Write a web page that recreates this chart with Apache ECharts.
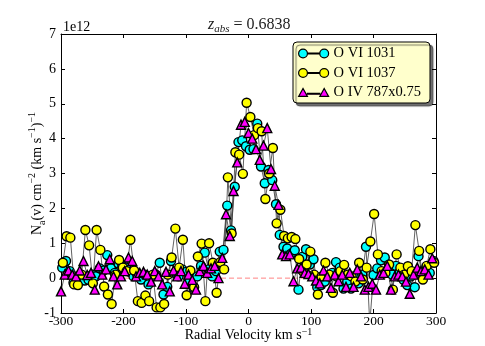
<!DOCTYPE html>
<html>
<head>
<meta charset="utf-8">
<title>O VI / O IV apparent column density</title>
<script src="https://cdn.jsdelivr.net/npm/echarts@6/dist/echarts.min.js"></script>
<style>
    html, body { margin: 0; padding: 0; background: #fff; }
    #chart { width: 485px; height: 346px; }
</style>
</head>
<body>
<div id="chart"></div>
<script>
// Apparent column density profiles, units of 1e12 cm^-2 (km/s)^-1

// O VI 1031 (cyan circles)
var velocityOVI1031 = [
    -298, -292, -286, -280, -274, -268, -262, -256, -250, -244,
    -238, -232, -226, -220, -214, -208, -202, -196, -190, -184,
    -178, -172, -166, -160, -154, -148, -142, -136, -130, -124,
    -118, -112, -106, -100, -94, -88, -82, -76, -70, -64,
    -58, -52, -46, -40, -34, -28, -22, -16, -10, -4,
    2, 8, 14, 20, 26, 32, 38, 44, 50, 56,
    62, 68, 74, 80, 86, 92, 98, 104, 110, 116,
    122, 128, 134, 140, 146, 152, 158, 164, 170, 176,
    182, 188, 194, 200, 206, 212, 218, 224, 230, 236,
    242, 248, 254, 260, 266, 272, 278, 284, 290, 296
];
var nOVI1031 = [
    0.30, 0.49, 0.20, -0.13, -0.10, 0.05, -0.07, -0.05, 0.10, 0.05,
    0.28, 0.22, 0.66, 0.28, 0.15, 0.42, 0.35, 0.30, 0.18, 0.05,
    0.10, -0.04, 0.10, -0.18, 0.05, 0.10, 0.44, -0.47, -0.25, 0.49,
    0.15, 0.05, 0.25, 0.18, -0.09, -0.28, 0.05, 0.35, 0.73, 0.25,
    0.05, 0.20, 0.76, 0.81, 2.08, 1.37, 2.62, 3.90, 3.95, 3.78,
    3.68, 3.70, 4.43, 3.20, 2.72, 3.10, 2.81, 2.12, 1.24, 0.90,
    0.85, 0.70, 0.80, -0.33, 0.61, 0.83, 0.39, 0.54, -0.26, -0.20,
    -0.10, 0.05, 0.15, 0.46, 0.30, -0.30, -0.10, -0.30, 0.05, -0.15,
    0.10, 0.90, -1.30, 0.09, 0.28, 0.51, 0.59, 0.25, 0.10, 0.35,
    0.18, -0.05, -0.20, 0.05, -0.26, 0.63, 0.10, 0.20, 0.15, 0.49
];

// O VI 1037 (yellow circles)
var velocityOVI1037 = [
    -297, -291, -285, -279, -273, -267, -261, -255, -249, -243,
    -237, -231, -225, -219, -213, -207, -201, -195, -189, -183,
    -177, -171, -165, -159, -153, -147, -141, -135, -129, -123,
    -117, -111, -105, -99, -93, -87, -81, -75, -69, -63,
    -57, -51, -45, -39, -33, -27, -21, -15, -9, -3,
    3, 9, 15, 21, 27, 33, 39, 45, 51, 57,
    63, 69, 75, 81, 87, 93, 99, 105, 111, 117,
    123, 129, 135, 141, 147, 153, 159, 165, 171, 177,
    183, 189, 195, 201, 207, 213, 219, 225, 231, 237,
    243, 249, 255, 261, 267, 273, 279, 285, 291, 297
];
var nOVI1037 = [
    0.44, 1.20, 1.16, -0.18, -0.20, 0.10, 1.38, 0.94, -0.15, 1.38,
    0.81, -0.24, -0.47, -0.74, 0.10, 0.52, 0.30, 0.20, 1.10, 0.22,
    -0.66, -0.71, -0.50, -0.66, 0.10, -0.84, -0.84, -0.74, 0.10, 0.59,
    1.42, 0.30, 1.10, -0.49, 0.22, -0.26, 0.62, 0.99, -0.66, 1.00,
    0.44, -0.42, 0.46, 0.25, 2.89, 1.28, 3.61, 3.54, 2.99, 5.03,
    4.62, 4.10, 4.30, 4.21, 2.27, 3.00, 3.73, 1.57, 1.96, 1.21,
    1.14, 1.18, 1.12, 0.55, 0.20, 0.39, 0.76, 0.10, -0.47, 0.05,
    0.44, 0.10, -0.42, 0.05, 0.20, 0.38, 0.10, 0.05, -0.10, 0.44,
    -0.04, 0.30, 1.05, 1.84, 0.68, 0.20, 0.15, 0.39, -0.33, 0.68,
    0.30, 0.10, 0.34, 0.20, 1.52, 0.78, -0.04, 0.35, 0.83, 0.44
];

// O IV 787 scaled by 0.75 (magenta triangles)
var velocityOIV787 = [
    -300, -294, -288, -282, -276, -270, -264, -258, -252, -246,
    -240, -234, -228, -222, -216, -210, -204, -198, -192, -186,
    -180, -174, -168, -162, -156, -150, -144, -138, -132, -126,
    -120, -114, -108, -102, -96, -90, -84, -78, -72, -66,
    -60, -54, -48, -42, -36, -30, -24, -18, -12, -6,
    0, 6, 12, 18, 24, 30, 36, 42, 48, 54,
    60, 66, 72, 78, 84, 90, 96, 102, 108, 114,
    120, 126, 132, 138, 144, 150, 156, 162, 168, 174,
    180, 186, 192, 198, 204, 210, 216, 222, 228, 234,
    240, 246, 252, 258, 264, 270, 276, 282, 288, 294
];
var nOIV787 = [
    -0.38, 0.10, 0.22, 0.10, 0.05, 0.22, 0.49, 0.09, 0.15, -0.33,
    0.34, 0.10, 0.25, 0.54, 0.05, -0.18, 0.05, 0.20, 0.59, 0.49,
    0.05, 0.15, 0.18, 0.10, -0.10, 0.20, 0.05, -0.18, 0.18, -0.38,
    0.22, 0.05, 0.20, -0.16, 0.10, -0.05, -0.33, 0.20, 0.35, 0.15,
    0.28, 0.35, 0.00, 0.58, 1.83, 1.21, 2.50, 3.32, 4.40, 4.48,
    4.16, 4.00, 3.70, 3.39, 3.80, 4.30, 3.13, 2.65, 2.10, 0.68,
    0.63, 0.68, -0.09, 0.28, 0.30, 0.15, 0.12, 0.05, -0.07, -0.15,
    0.22, 0.05, -0.28, 0.10, -0.09, 0.10, -0.25, 0.15, -0.25, 0.25,
    0.05, -0.33, -0.25, -0.16, -0.33, 0.10, 0.15, 0.35, -0.33, 0.05,
    0.10, 0.05, -0.10, -0.45, 0.10, 0.30, 0.20, 0.25, 0.10, 0.57
];

// zero level (red dashed)
var baselineVelocity = [-300, 300];
var baselineValue = [0, 0];

var seriesNames = ['O VI 1031', 'O VI 1037', 'O IV 787x0.75'];

var FONT = '"Liberation Serif", "DejaVu Serif", serif';

function zipPoints(xs, ys) {
    return xs.map(function (x, i) { return [x, ys[i]]; });
}

// two markers joined by a line, like the matplotlib legend
var circleIcon = 'path://M0,5A5,5 0 1 1 10,5A5,5 0 1 1 0,5Z M10,4.5L24,4.5L24,5.5L10,5.5Z M24,5A5,5 0 1 1 34,5A5,5 0 1 1 24,5Z';
var triangleIcon = 'path://M0,10L5,1L10,10Z M10,6.5L24,6.5L24,7.5L10,7.5Z M24,10L29,1L34,10Z';

function dotSeries(name, pts, color, symbol) {
    return {
        name: name,
        type: 'line',
        data: pts,
        symbol: symbol,
        symbolSize: 9,
        showAllSymbol: true,
        animation: false,
        lineStyle: { color: '#3a3a3a', width: 0.8 },
        itemStyle: { color: color, borderColor: '#000', borderWidth: 1.4 },
        emphasis: { disabled: true }
    };
}

var chart = echarts.init(document.getElementById('chart'), null, { renderer: 'canvas' });

var axisBase = {
    type: 'value',
    nameMoveOverlap: false,
    axisLine: { show: true, onZero: false, lineStyle: { color: '#000', width: 1 } },
    axisTick: { show: true, inside: true, length: 4, lineStyle: { color: '#000' } },
    splitLine: { show: false }
};

var option = {
    animation: false,
    backgroundColor: '#fff',
    grid: { left: 61, top: 34, width: 375, height: 279, containLabel: false, outerBoundsMode: 'none' },
    title: {
        text: '{i|z}{s|abs}{t| = 0.6838}',
        left: 203,
        top: 10,
        textStyle: {
            fontWeight: 'normal',
            rich: {
                i: { fontFamily: FONT, fontStyle: 'italic', fontWeight: 'normal', fontSize: 16, color: '#222', lineHeight: 20 },
                s: { fontFamily: FONT, fontStyle: 'italic', fontWeight: 'normal', fontSize: 11, color: '#222', verticalAlign: 'bottom' },
                t: { fontFamily: FONT, fontWeight: 'normal', fontSize: 16, color: '#222', lineHeight: 20 }
            }
        }
    },
    legend: {
        orient: 'vertical',
        left: 293,
        top: 42,
        padding: [4, 9, 3, 5],
        itemWidth: 30,
        itemHeight: 10,
        itemGap: 4.5,
        backgroundColor: '#ffffcc',
        borderColor: '#000',
        borderWidth: 1,
        borderRadius: 4,
        shadowColor: 'rgba(0,0,0,0.55)',
        shadowBlur: 1,
        shadowOffsetX: 3,
        shadowOffsetY: 3,
        textStyle: { fontFamily: FONT, fontSize: 14.5, color: '#000' },
        data: [
            { name: seriesNames[0], icon: circleIcon, itemStyle: { color: '#00ffff', borderColor: '#000', borderWidth: 1.2 } },
            { name: seriesNames[1], icon: circleIcon, itemStyle: { color: '#ffff00', borderColor: '#000', borderWidth: 1.2 } },
            { name: seriesNames[2], icon: triangleIcon, itemStyle: { color: '#ff00ff', borderColor: '#000', borderWidth: 1.2 } }
        ]
    },
    xAxis: [
        Object.assign({}, axisBase, {
            position: 'bottom',
            min: -300, max: 300, interval: 100,
            name: '{t|Radial Velocity km s}{u|\u22121}',
            nameLocation: 'middle',
            nameGap: 14,
            nameTextStyle: {
                rich: {
                    t: { fontFamily: FONT, fontSize: 14, color: '#000', lineHeight: 17 },
                    u: { fontFamily: FONT, fontSize: 10, color: '#000', verticalAlign: 'top' }
                }
            },
            axisLabel: { margin: 1, fontFamily: FONT, fontSize: 13.5, color: '#000' }
        }),
        Object.assign({}, axisBase, {
            position: 'top',
            min: -300, max: 300, interval: 100,
            axisLabel: { show: false }
        })
    ],
    yAxis: [
        Object.assign({}, axisBase, {
            position: 'left',
            min: -1, max: 7, interval: 1,
            name: '{t|N}{d|a}{t|(v) cm}{u|\u22122}{t| (km s}{u|\u22121}{t|)}{u|\u22121}',
            nameLocation: 'middle',
            nameRotate: 90,
            nameGap: 14,
            nameTextStyle: {
                rich: {
                    t: { fontFamily: FONT, fontSize: 14, color: '#000', lineHeight: 20 },
                    u: { fontFamily: FONT, fontSize: 10, color: '#000', verticalAlign: 'top' },
                    d: { fontFamily: FONT, fontSize: 10, color: '#000', verticalAlign: 'bottom' }
                }
            },
            axisLabel: { margin: 5, fontFamily: FONT, fontSize: 14, color: '#000' }
        }),
        Object.assign({}, axisBase, {
            position: 'right',
            min: -1, max: 7, interval: 1,
            axisLabel: { show: false }
        })
    ],
    graphic: [
        {
            type: 'text',
            left: 63,
            top: 20,
            style: { text: '1e12', font: '14px ' + FONT, fill: '#000' }
        }
    ],
    series: [
        {
            name: 'zero level',
            type: 'line',
            data: zipPoints(baselineVelocity, baselineValue),
            symbol: 'none',
            silent: true,
            itemStyle: { color: '#ff5a5a' },
            lineStyle: { color: '#ff5a5a', opacity: 0.75, width: 1, type: [5, 3] }
        },
        dotSeries(seriesNames[0], zipPoints(velocityOVI1031, nOVI1031), '#00ffff', 'circle'),
        dotSeries(seriesNames[1], zipPoints(velocityOVI1037, nOVI1037), '#ffff00', 'circle'),
        dotSeries(seriesNames[2], zipPoints(velocityOIV787, nOIV787), '#ff00ff', 'triangle')
    ]
};

chart.setOption(option);
</script>
</body>
</html>
